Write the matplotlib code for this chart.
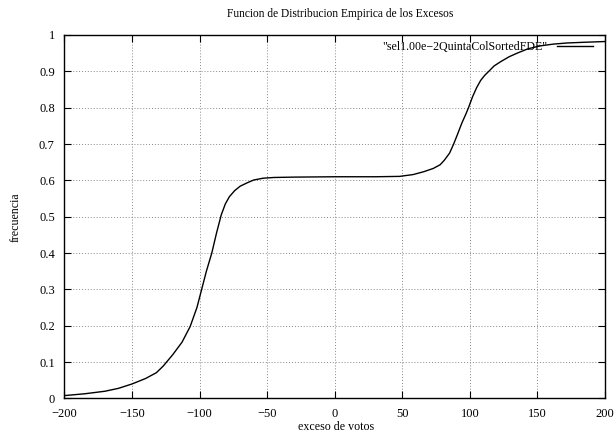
import matplotlib
matplotlib.use("Agg")
import matplotlib.pyplot as plt

exceso = [-200, -185, -170, -160, -150, -140, -132, -127, -120, -113, -107, -102,
          -98.5, -95, -91, -87.5, -84, -81, -78, -74, -70, -65, -60, -53, -45, -30,
          0, 30, 48, 58, 66, 73, 78, 81, 85, 88, 91, 94, 97, 99, 102, 105, 108, 111,
          114, 118, 123, 129, 135, 143, 152, 162, 172, 185, 200]
frecuencia = [0.008, 0.013, 0.020, 0.028, 0.040, 0.055, 0.071, 0.089, 0.12, 0.155,
              0.198, 0.25, 0.30, 0.35, 0.40, 0.455, 0.505, 0.535, 0.555, 0.572, 0.584,
              0.593, 0.601, 0.606, 0.608, 0.609, 0.610, 0.610, 0.611, 0.616, 0.624,
              0.633, 0.643, 0.655, 0.675, 0.700, 0.728, 0.757, 0.782, 0.80, 0.83, 0.855,
              0.875, 0.889, 0.90, 0.915, 0.927, 0.94, 0.95, 0.962, 0.97, 0.975, 0.978,
              0.98, 0.982]

xticks = [-200, -150, -100, -50, 0, 50, 100, 150, 200]
yticks = [0, 0.1, 0.2, 0.3, 0.4, 0.5, 0.6, 0.7, 0.8, 0.9, 1]
etiqueta = "\"sel1.00e\u22122QuintaColSortedFDE\""

plt.rcParams['font.family'] = ['Liberation Serif', 'DejaVu Serif']
plt.rcParams['axes.unicode_minus'] = True

fig = plt.figure(figsize=(6.16, 4.34), dpi=100)
ax = fig.add_axes([0.1047, 0.0818, 0.8774, 0.8376])

ax.plot(exceso, frecuencia, color='black', lw=1.0, label=etiqueta)

ax.set_xlim(-200, 200)
ax.set_ylim(0, 1)
ax.set_xticks(xticks)
ax.set_yticks(yticks)
ax.set_yticklabels([str(t) if t not in (0, 1) else str(int(t)) for t in yticks])
ax.set_xticklabels([str(t).replace('-', '\u2212') for t in xticks])

ax.grid(True, color='#888888', linestyle=(0, (1, 2)), lw=0.7)
ax.tick_params(direction='in', length=5, width=0.8, top=True, right=True,
               labelsize=9, colors='black')
ax.tick_params(axis='x', pad=7)
ax.tick_params(axis='y', pad=7)
for s in ax.spines.values():
    s.set_linewidth(1.0)

# title and axis labels placed like gnuplot does
fig.text(0.553, 0.968, "Funcion de Distribucion Empirica de los Excesos",
         fontsize=8.3, ha='center', va='center')
fig.text(0.545, 0.015, "exceso de votos", fontsize=8.6, ha='center', va='center')
fig.text(0.026, 0.50, "frecuencia", fontsize=8.6, ha='center', va='center',
         rotation=90)

ax.legend(loc='upper right', bbox_to_anchor=(1.0, 1.015), frameon=False,
          markerfirst=False, handlelength=3.0, borderaxespad=0.6,
          handletextpad=0.8, fontsize=8.6)

fig.savefig("out.png", dpi=100)
